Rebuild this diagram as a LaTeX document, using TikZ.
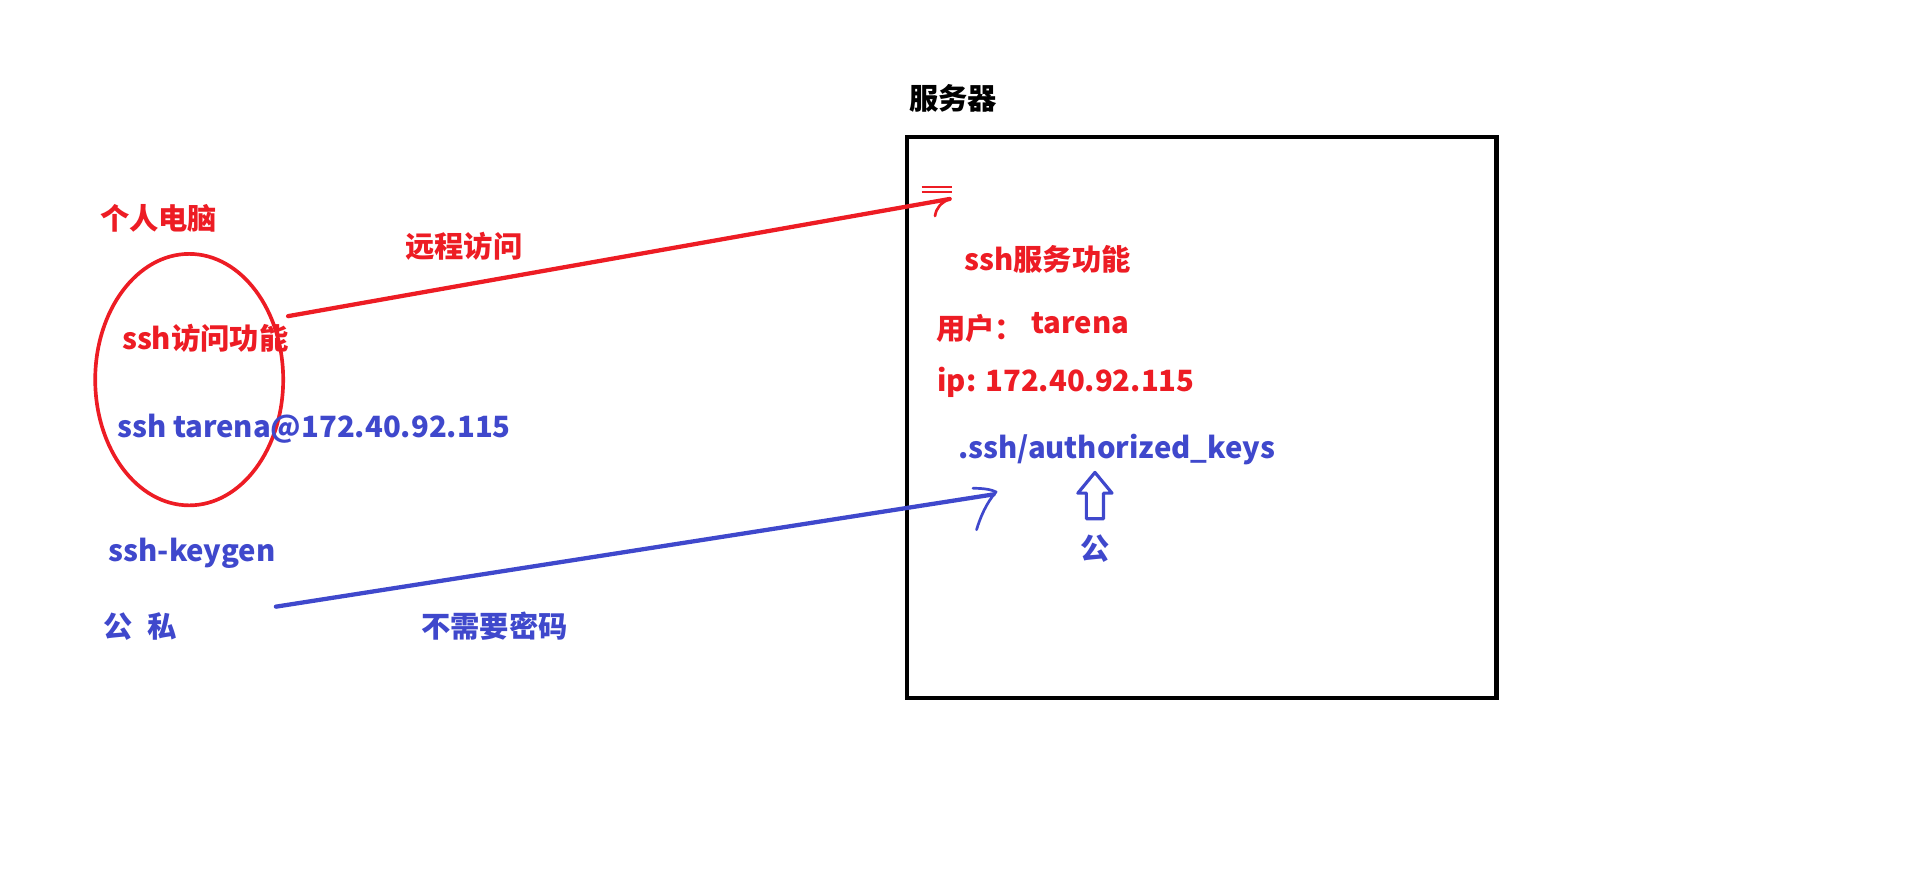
\documentclass[tikz,border=0pt]{standalone}
\usepackage{fontspec}
\setmainfont{Noto Sans CJK SC}
\usetikzlibrary{shapes.geometric}
\definecolor{paintred}{HTML}{ED1C24}
\definecolor{paintblue}{HTML}{3F48CC}
\tikzset{
  lbl/.style={inner sep=0, outer sep=0, anchor=base west, font=\fontsize{24}{28}\selectfont\bfseries},
  redlbl/.style={lbl, text=paintred},
  bluelbl/.style={lbl, text=paintblue},
  pen/.style={line width=3.5pt, line cap=round, line join=round},
  hook/.style={line width=2.2pt, line cap=round, line join=round},
}
\begin{document}
\begin{tikzpicture}[x=1pt,y=-1pt]
  \useasboundingbox (0,0) rectangle (1568,728);
  % server side
  \node[lbl] (server) at (745,90) {服务器};
  \node[draw, line width=3.5pt, inner sep=0, outer sep=0, anchor=north west, minimum width=483pt, minimum height=460pt] (box) at (743,112) {};
  \node[redlbl] (svcfn) at (790,222) {ssh服务功能};
  \node[redlbl] (user) at (767,278) {用户：};
  \node[redlbl] (username) at (845,273) {tarena};
  \node[redlbl] (ip) at (768,321) {ip: 172.40.92.115};
  \node[bluelbl] (authkeys) at (785,376) {.ssh/authorized\_keys};
  \node[bluelbl, anchor=base] (pub) at (897,458) {公};
  \draw[paintblue, line width=2.6pt, line join=round] (897,387) -- (911,404) -- (904,404) -- (904,425) -- (890,425) -- (890,404) -- (883,404) -- cycle;
  % personal computer side
  \node[redlbl] (pc) at (82,188) {个人电脑};
  \node[draw=paintred, ellipse, line width=3pt, inner sep=0, minimum width=154pt, minimum height=206pt] (pcell) at (155,311) {};
  \node[redlbl] (sshfn) at (100,286) {ssh访问功能};
  \node[bluelbl] (sshcmd) at (96,358) {ssh tarena@172.40.92.115};
  \node[bluelbl] (keygen) at (89,460) {ssh-keygen};
  \node[bluelbl] (keys) at (85,522) {公\hspace{12pt}私};
  \node[redlbl] (remote) at (332,211) {远程访问};
  \node[bluelbl] (nopwd) at (345,522) {不需要密码};
  % connectors
  \coordinate (redtail) at (236,259);
  \coordinate (redtip) at (778,163);
  \coordinate (bluetail) at (226,497);
  \coordinate (bluetip) at (814,405);
  \draw[pen, paintred] (redtail) -- (redtip);
  \draw[paintred, line width=1.6pt] (755,153.5) -- (780,153.5) (755,157.5) -- (780,157.5);
  \draw[hook, paintred] (redtip) .. controls (771,166) and (767,170) .. (766,177);
  \draw[pen, paintblue] (bluetail) -- (bluetip);
  \draw[hook, paintblue] (797,400) .. controls (806,400) and (812,401) .. (816,403) .. controls (808,412) and (803,424) .. (800,434);
\end{tikzpicture}
\end{document}
